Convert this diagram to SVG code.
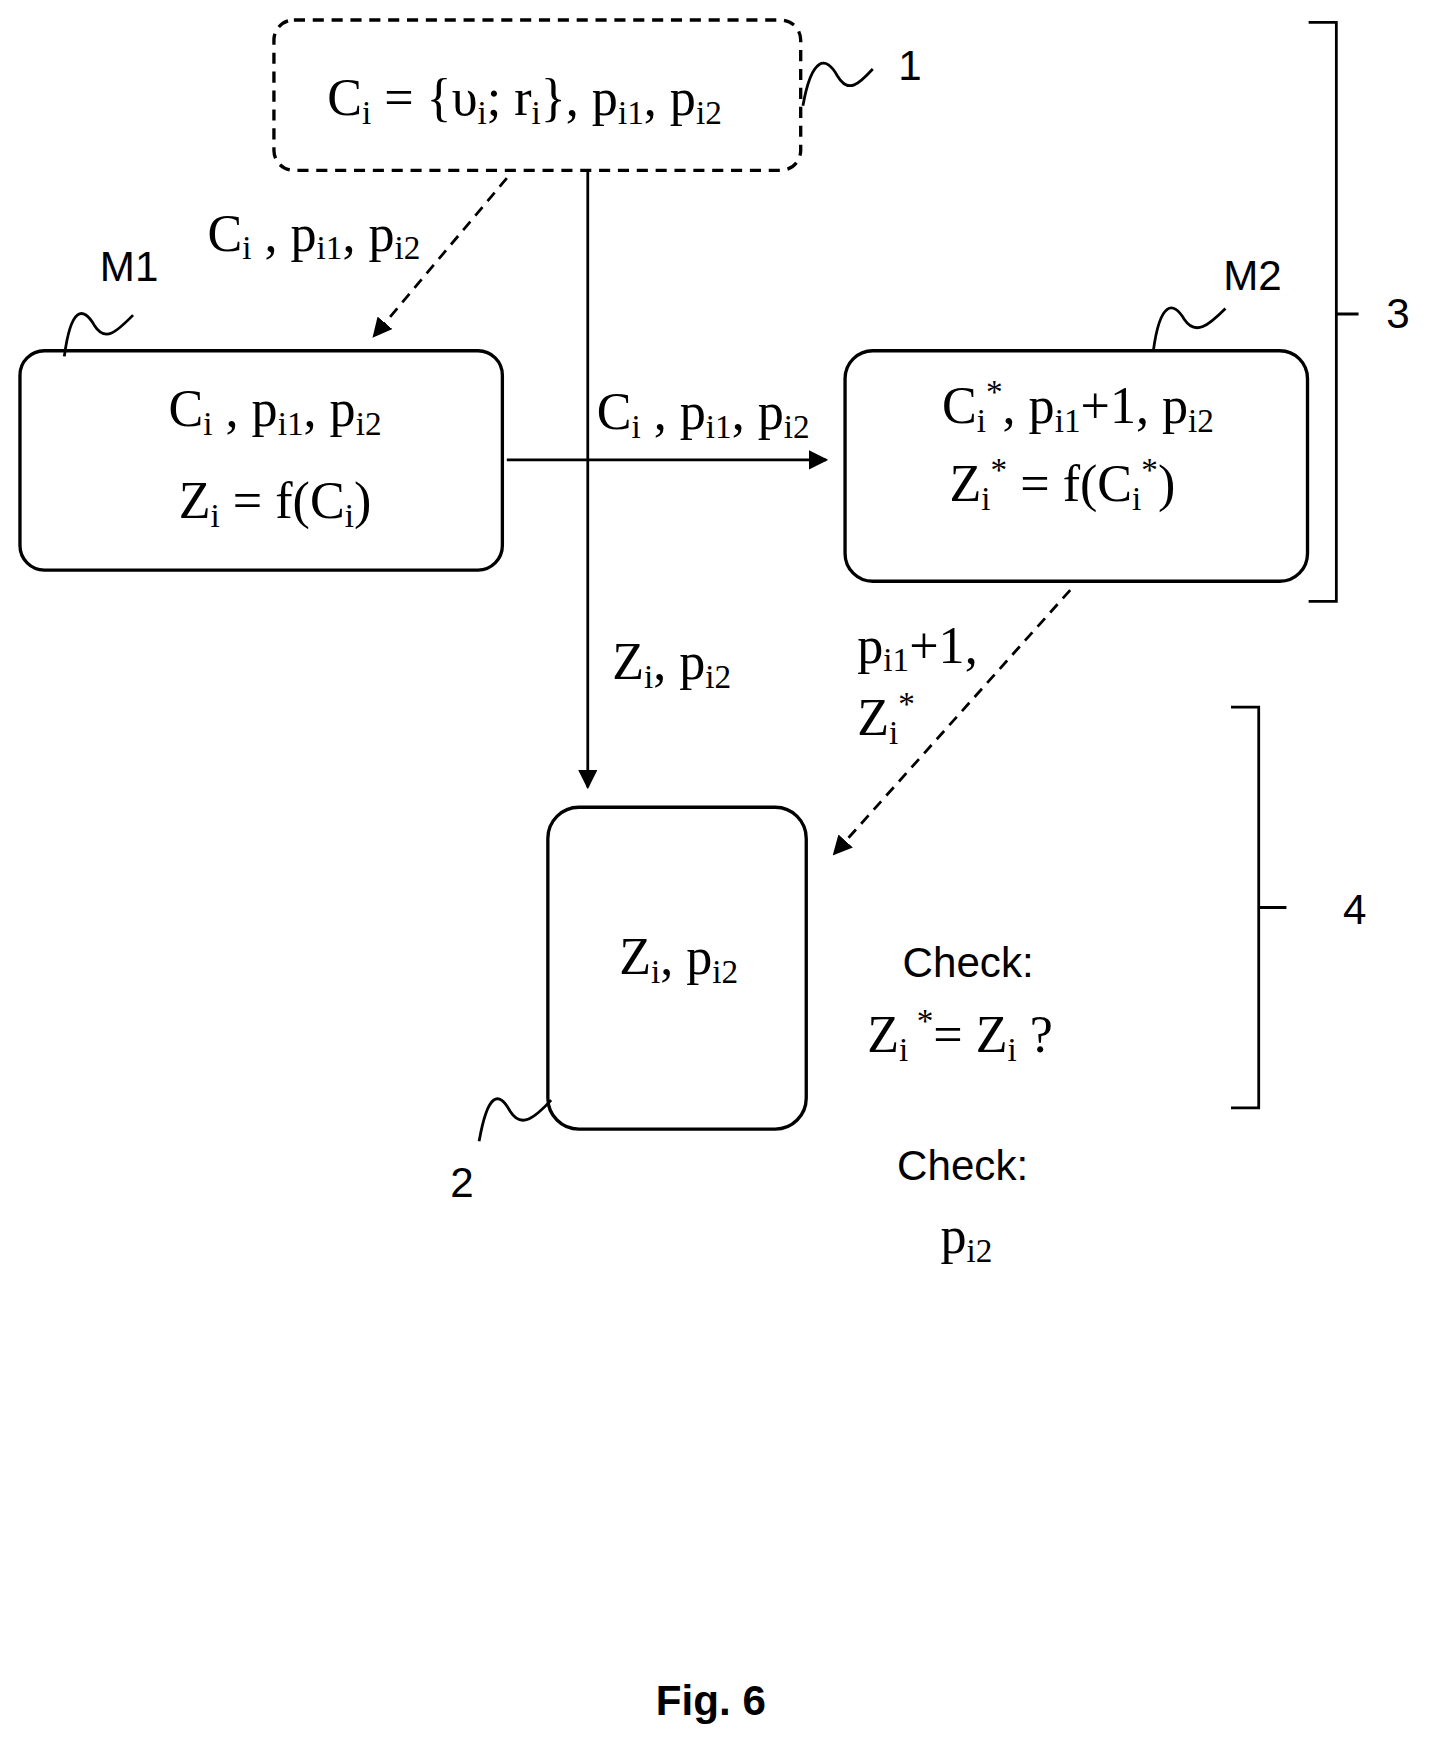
<svg xmlns="http://www.w3.org/2000/svg" width="1438" height="1746" viewBox="0 0 1438 1746">
<defs>
<style>
.m{font-family:"Liberation Serif",serif;font-size:47px;fill:#000}
.s{font-family:"Liberation Sans",sans-serif;font-size:38px;fill:#000}
.b{fill:#fff;stroke:#000;stroke-width:3}
.l{fill:none;stroke:#000;stroke-width:2.5}
.d{stroke-dasharray:10,7}
.sub{font-size:30px}
</style>
<marker id="a" viewBox="0 0 10 10" refX="9" refY="5" markerWidth="7" markerHeight="7" orient="auto"><path d="M0,0L10,5L0,10z" fill="#000"/></marker>
</defs>
<rect width="1438" height="1746" fill="#fff"/>
<g transform="scale(1.109,1.1135)">
<g id="connectors">
<line class="l d" x1="457" y1="160" x2="337" y2="302" marker-end="url(#a)"/>
<line class="l" x1="530" y1="153" x2="530" y2="707" marker-end="url(#a)"/>
<line class="l" x1="457" y1="413" x2="745" y2="413" marker-end="url(#a)"/>
<line class="l d" x1="965" y1="530" x2="752" y2="767" marker-end="url(#a)"/>
<text class="m" x="187" y="225">C<tspan class="sub" dy="8">i</tspan><tspan dy="-8"> , p</tspan><tspan class="sub" dy="8">i1</tspan><tspan dy="-8">, p</tspan><tspan class="sub" dy="8">i2</tspan></text>
<text class="m" x="538" y="385">C<tspan class="sub" dy="8">i</tspan><tspan dy="-8"> , p</tspan><tspan class="sub" dy="8">i1</tspan><tspan dy="-8">, p</tspan><tspan class="sub" dy="8">i2</tspan></text>
<text class="m" x="552" y="610">Z<tspan class="sub" dy="8">i</tspan><tspan dy="-8">, p</tspan><tspan class="sub" dy="8">i2</tspan></text>
<text class="m" x="773" y="595">p<tspan class="sub" dy="8">i1</tspan><tspan dy="-8">+1,</tspan></text>
<text class="m" x="773" y="660">Z<tspan class="sub" dy="8">i</tspan><tspan class="sub" dy="-26">*</tspan></text>
</g>
<g id="n1">
<rect class="b d" x="247" y="18" width="475" height="135" rx="18"/>
<text class="m" x="295" y="103">C<tspan class="sub" dy="8">i</tspan><tspan dy="-8"> = {υ</tspan><tspan class="sub" dy="8">i</tspan><tspan dy="-8">; r</tspan><tspan class="sub" dy="8">i</tspan><tspan dy="-8">}, p</tspan><tspan class="sub" dy="8">i1</tspan><tspan dy="-8">, p</tspan><tspan class="sub" dy="8">i2</tspan></text>
<path class="l" d="M724,95 C732,50 745,50 755,68 C765,85 775,75 787,62"/>
<text class="s" x="810" y="72">1</text>
</g>
<g id="M1">
<rect class="b" x="18" y="315" width="435" height="197" rx="22"/>
<text class="m" x="248" y="383" text-anchor="middle">C<tspan class="sub" dy="8">i</tspan><tspan dy="-8"> , p</tspan><tspan class="sub" dy="8">i1</tspan><tspan dy="-8">, p</tspan><tspan class="sub" dy="8">i2</tspan></text>
<text class="m" x="248" y="465" text-anchor="middle">Z<tspan class="sub" dy="8">i</tspan><tspan dy="-8"> = f(C</tspan><tspan class="sub" dy="8">i</tspan><tspan dy="-8">)</tspan></text>
<path class="l" d="M58,320 C64,275 75,275 85,292 C95,308 105,298 120,283"/>
<text class="s" x="90" y="252">M1</text>
</g>
<g id="M2">
<rect class="b" x="762" y="315" width="417" height="207" rx="25"/>
<text class="m" x="972" y="380" text-anchor="middle">C<tspan class="sub" dy="8">i</tspan><tspan class="sub" dy="-26">*</tspan><tspan dy="18">, p</tspan><tspan class="sub" dy="8">i1</tspan><tspan dy="-8">+1, p</tspan><tspan class="sub" dy="8">i2</tspan></text>
<text class="m" x="958" y="450" text-anchor="middle">Z<tspan class="sub" dy="8">i</tspan><tspan class="sub" dy="-26">*</tspan><tspan dy="18"> = f(C</tspan><tspan class="sub" dy="8">i</tspan><tspan class="sub" dy="-26">*</tspan><tspan dy="18">)</tspan></text>
<path class="l" d="M1040,315 C1046,270 1058,270 1068,287 C1078,302 1090,292 1105,277"/>
<text class="s" x="1103" y="260">M2</text>
</g>
<g id="n2">
<rect class="b" x="494" y="725" width="233" height="289" rx="28"/>
<text class="m" x="612" y="875" text-anchor="middle">Z<tspan class="sub" dy="8">i</tspan><tspan dy="-8">, p</tspan><tspan class="sub" dy="8">i2</tspan></text>
<path class="l" d="M432,1025 C440,980 450,980 460,998 C470,1014 482,1004 497,988"/>
<text class="s" x="406" y="1075">2</text>
</g>
<g id="brace3">
<path class="l" d="M1180,20 L1205,20 L1205,540 L1180,540 M1205,282 L1225,282"/>
<text class="s" x="1250" y="295">3</text>
</g>
<g id="brace4">
<path class="l" d="M1110,635 L1135,635 L1135,995 L1110,995 M1135,815 L1160,815"/>
<text class="s" x="1211" y="830">4</text>
</g>
<g id="checks">
<text class="s" x="873" y="877" text-anchor="middle">Check:</text>
<text class="m" x="782" y="945">Z<tspan class="sub" dy="8">i</tspan><tspan class="sub" dy="-26"> *</tspan><tspan dy="18">= Z</tspan><tspan class="sub" dy="8">i</tspan><tspan dy="-8">  ?</tspan></text>
<text class="s" x="868" y="1060" text-anchor="middle">Check:</text>
<text class="m" x="848" y="1125">p<tspan class="sub" dy="8">i2</tspan></text>
</g>
<text x="641" y="1540" text-anchor="middle" font-family="Liberation Sans,sans-serif" font-weight="bold" font-size="38">Fig. 6</text>
</g>
</svg>
